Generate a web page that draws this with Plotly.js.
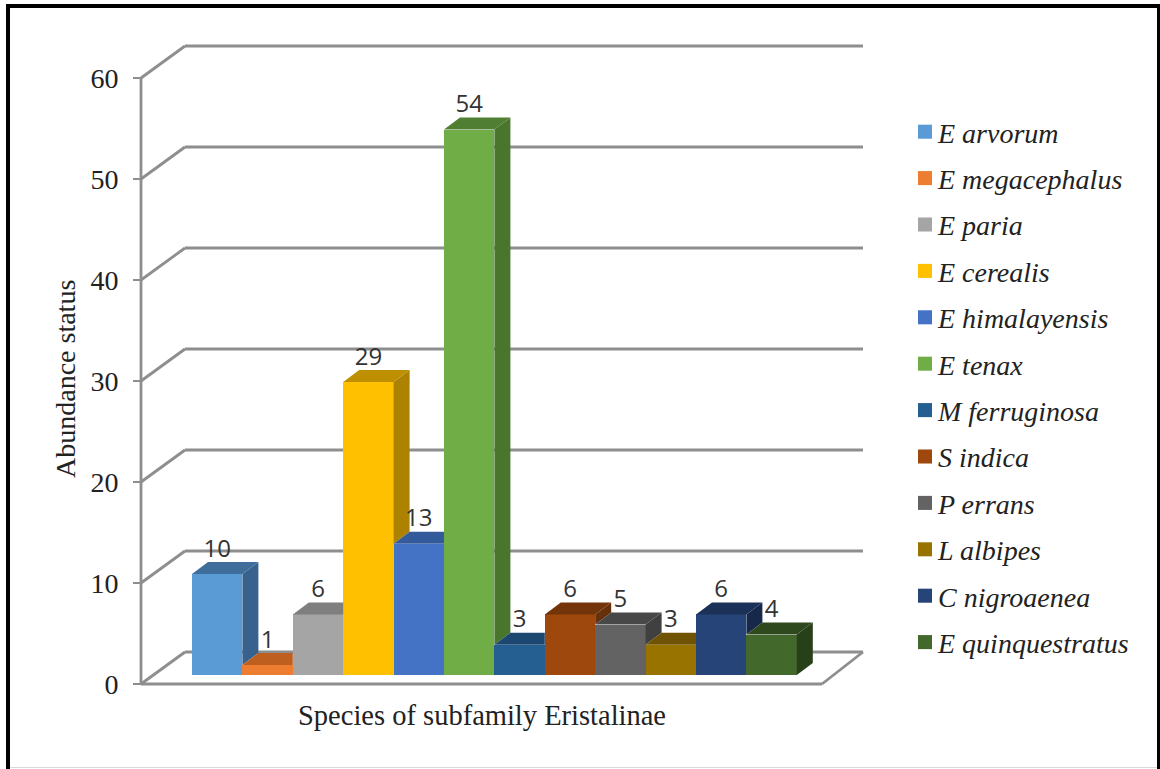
<!DOCTYPE html>
<html>
<head>
<meta charset="utf-8">
<script src="https://cdn.plot.ly/plotly-3.0.1.min.js"></script>
<style>html,body{margin:0;padding:0;background:#fff}#chart{width:1160px;height:769px}</style>
</head>
<body>
<div id="chart"></div>
<script>
// Abundance of Eristalinae species, drawn as a box-style column chart.
const species = ['E arvorum','E megacephalus','E paria','E cerealis','E himalayensis','E tenax',
  'M ferruginosa','S indica','P errans','L albipes','C nigroaenea','E quinquestratus'];
const counts = [10,1,6,29,13,54,3,6,5,3,6,4];
const frontColors = ['#5B9BD5','#ED7D31','#A5A5A5','#FFC000','#4472C4','#70AD47','#255E91','#9E480E','#636363','#997300','#264478','#43682B'];
const topColors = ['#3F6E9C','#BE5F1F','#7F7F7F','#BE8F00','#335A9A','#507E32','#1B4770','#733409','#484848','#6F5300','#1B3157','#2F491E'];
const sideColors = ['#37628E','#A8521A','#707070','#AD8200','#2E5089','#4A752D','#173D60','#66300A','#404040','#624A00','#16294A','#27401A'];
const axisTicks = [0,10,20,30,40,50,60];

// The plot area runs a few pixels past the box so its edge lines stay whole.
const plotL = 136, plotR = 866, plotT = 41, plotB = 689;
const axisPx = 141, zeroPx = 684, backRightPx = 863, frontRightPx = 822;
const pxPerCat = 50.4, pxPerVal = 10.1, firstCenter = 217.2;
const toCat = p => (p - firstCenter) / pxPerCat;
const toVal = p => (zeroPx - p) / pxPerVal;
const xMin = toCat(axisPx), xMax = toCat(backRightPx), floorFront = toCat(frontRightPx);

// Depth of the walls and floor, and of the columns, in axis units.
const wallDx = 44 / pxPerCat, wallDy = 32 / pxPerVal;
const barDx = 16 / pxPerCat, barDy = 12 / pxPerVal;
const floorLift = toVal(675);

const traces = [];

// Front faces are the real bars and carry the legend.
species.forEach((name, i) => {
  traces.push({
    type: 'bar', name, x: [i], y: [counts[i]], base: floorLift, width: 1,
    legendgroup: name, marker: {color: frontColors[i], line: {width: 0}}, hoverinfo: 'name+y'
  });
});

// Top and side faces; parts behind a taller right-hand neighbour are left out.
function face(xs, ys, color) {
  traces.push({
    type: 'scatter', mode: 'lines', x: xs, y: ys, fill: 'toself', fillcolor: color,
    line: {width: 0}, showlegend: false, hoverinfo: 'skip'
  });
}
counts.forEach((v, i) => {
  const x0 = i - 0.5, x1 = i + 0.5, top = floorLift + v;
  const next = i + 1 < counts.length ? counts[i + 1] : 0;
  if (next > v) {
    face([x0, x1, x1, x0 + barDx], [top, top, top + barDy, top + barDy], topColors[i]);
  } else {
    const low = floorLift + next;
    face([x1, x1 + barDx, x1 + barDx, x1], [top, top + barDy, low + barDy, low], sideColors[i]);
    face([x0, x1, x1 + barDx, x0 + barDx], [top, top, top + barDy, top + barDy], topColors[i]);
  }
});

// Value labels above each column.
traces.push({
  type: 'scatter', mode: 'text', x: species.map((_, i) => i),
  y: counts.map(v => floorLift + v + 2.3), text: counts.map(String),
  textposition: 'middle center', cliponaxis: false,
  textfont: {family: 'Open Sans, sans-serif', size: 24, color: '#333333'},
  showlegend: false, hoverinfo: 'skip'
});

// Walls and floor of the chart box, all beneath the columns.
const wallLine = {color: '#8E8E8E', width: 2.8};
const wallShapes = [];
function segment(x0, y0, x1, y1) {
  wallShapes.push({type: 'line', layer: 'below', xref: 'x', yref: 'y', x0, y0, x1, y1, line: wallLine});
}
axisTicks.forEach(t => {
  segment(xMin, t, xMin + wallDx, t + wallDy);
  segment(xMin + wallDx, t + wallDy, xMax, t + wallDy);
});
segment(xMin, 0, xMin, axisTicks[axisTicks.length - 1]);
segment(xMin, 0, floorFront, 0);
segment(floorFront, 0, xMax, wallDy);

// Picture frame, placed in page pixels.
const px = x => (x - plotL) / (plotR - plotL);
const py = y => (plotB - y) / (plotB - plotT);
function frameBar(x0, y0, x1, y1, color) {
  return {type: 'rect', xref: 'paper', yref: 'paper', x0: px(x0), x1: px(x1), y0: py(y0), y1: py(y1),
    fillcolor: color, line: {width: 0}};
}
const frame = [
  frameBar(6, 4, 1160, 8, '#000000'),
  frameBar(6, 4, 10, 769, '#000000'),
  frameBar(1157, 4, 1160, 769, '#000000'),
  frameBar(10, 767, 1157, 768, '#D9D9D9')
];

const serif = '"Liberation Serif", "Times New Roman", serif';
const layout = {
  width: 1160, height: 769,
  margin: {l: plotL, r: 1160 - plotR, t: plotT, b: 769 - plotB, pad: 0},
  paper_bgcolor: '#ffffff', plot_bgcolor: '#ffffff',
  barmode: 'overlay', bargap: 0,
  xaxis: {range: [toCat(plotL), toCat(plotR)], showticklabels: false, ticks: '', showgrid: false, zeroline: false, showline: false, fixedrange: true},
  yaxis: {range: [toVal(plotB), toVal(plotT)], anchor: 'free', position: px(axisPx),
    tickvals: axisTicks, ticktext: axisTicks.map(String), ticks: 'outside', ticklen: 8, tickwidth: 1.5,
    tickcolor: '#8E8E8E', showgrid: false, zeroline: false, showline: false, fixedrange: true, ticklabelstandoff: 9,
    tickfont: {family: serif, size: 28, color: '#222222'}},
  shapes: wallShapes.concat(frame),
  annotations: [
    {text: 'Species of subfamily Eristalinae', xref: 'paper', yref: 'paper', x: px(482), y: py(715.5), xanchor: 'center', yanchor: 'middle',
      showarrow: false, font: {family: serif, size: 28.5, color: '#222222'}},
    {text: 'Abundance status', xref: 'paper', yref: 'paper', x: px(65), y: py(379), xanchor: 'center', yanchor: 'middle', textangle: -90,
      showarrow: false, font: {family: serif, size: 28, color: '#222222'}}
  ],
  legend: {x: px(905), y: py(107), xanchor: 'left', yanchor: 'top', bgcolor: 'rgba(0,0,0,0)', borderwidth: 0,
    traceorder: 'grouped', tracegroupgap: 7, itemclick: false, itemdoubleclick: false,
    font: {family: serif, size: 28, style: 'italic', color: '#222222'}},
  showlegend: true
};

Plotly.newPlot('chart', traces, layout, {displayModeBar: false, staticPlot: true}).then(() => {
  // Bring the legend labels closer to their swatches and enlarge the swatches a little.
  document.querySelectorAll('#chart .legendtext').forEach(t => t.setAttribute('x', '33'));
  document.querySelectorAll('#chart .legendpoints path').forEach(p => {
    p.setAttribute('transform', (p.getAttribute('transform') || '') + ' scale(1.17)');
  });
});
</script>
</body>
</html>
